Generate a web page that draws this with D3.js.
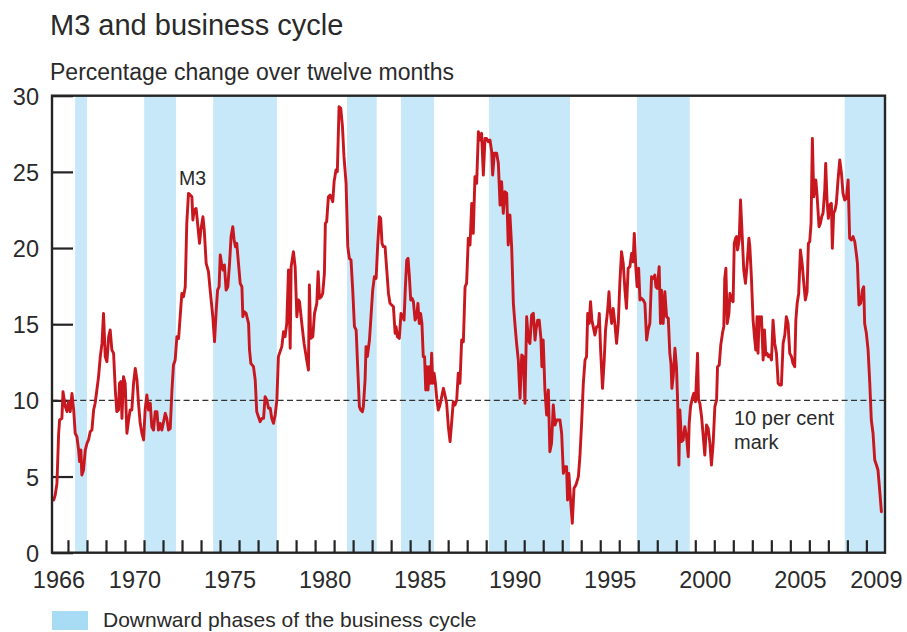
<!DOCTYPE html>
<html>
<head>
<meta charset="utf-8">
<script src="https://cdn.jsdelivr.net/npm/d3@7"></script>
<style>
  html, body { margin: 0; padding: 0; background: #fff; }
  svg { display: block; }
  text { font-family: "Liberation Sans", Arial, Helvetica, sans-serif; fill: #2a2a2a; }
</style>
</head>
<body>
<svg id="chart" width="907" height="632"></svg>
<script>
// ---- Data (decimal years, 12-month % change of M3) ----
const months = [
1966.25,1966.28,1966.33,1966.42,1966.51,1966.56,1966.68,1966.74,1966.86,1966.95,
1967.03,1967.12,1967.21,1967.30,1967.38,1967.47,1967.56,1967.61,1967.68,1967.73,
1967.82,1967.91,1968.00,1968.08,1968.17,1968.26,1968.35,1968.43,1968.52,1968.61,
1968.70,1968.79,1968.87,1968.96,1969.05,1969.14,1969.22,1969.31,1969.40,1969.49,
1969.57,1969.66,1969.71,1969.78,1969.84,1969.92,1970.01,1970.10,1970.19,1970.27,
1970.36,1970.45,1970.54,1970.63,1970.71,1970.80,1970.89,1970.98,1971.06,1971.15,
1971.24,1971.33,1971.41,1971.50,1971.59,1971.68,1971.76,1971.85,1971.94,1972.03,
1972.12,1972.20,1972.29,1972.38,1972.47,1972.55,1972.64,1972.73,1972.82,
1972.99,1973.08,1973.17,1973.25,1973.34,1973.43,1973.52,1973.57,1973.64,1973.74,
1973.81,1973.92,1973.99,1974.10,1974.17,1974.27,1974.39,1974.48,1974.62,1974.71,
1974.80,1974.87,1974.95,1975.01,1975.08,1975.15,1975.23,1975.32,1975.41,1975.50,
1975.58,1975.67,1975.74,1975.81,1975.88,1975.97,1976.06,1976.15,1976.20,1976.27,
1976.37,1976.50,1976.55,1976.62,1976.76,1976.85,1976.93,1977.02,1977.11,1977.20,
1977.29,1977.37,1977.46,1977.55,1977.64,1977.72,1977.81,1977.90,1977.99,1978.07,
1978.16,1978.25,1978.34,1978.42,1978.51,1978.60,1978.69,1978.74,1978.86,1978.95,
1979.04,1979.13,1979.18,1979.30,1979.42,1979.56,1979.65,1979.70,1979.77,1979.88,
1979.97,1980.09,1980.16,1980.23,1980.33,1980.40,1980.49,1980.54,1980.61,1980.70,
1980.79,1980.93,1981.00,1981.10,1981.17,1981.26,1981.35,1981.44,1981.52,1981.63,
1981.72,1981.80,1981.89,1981.98,1982.07,1982.16,1982.24,1982.33,1982.40,1982.49,
1982.54,1982.63,1982.68,1982.75,1982.86,1982.94,1983.03,1983.12,1983.21,1983.29,
1983.38,1983.45,1983.52,1983.59,1983.68,1983.77,1983.86,1983.94,1984.03,1984.12,
1984.21,1984.26,1984.33,1984.43,1984.52,1984.61,1984.68,1984.75,1984.82,1984.89,
1984.96,1985.03,1985.10,1985.17,1985.26,1985.34,1985.41,1985.48,1985.55,1985.62,
1985.69,1985.76,1985.82,1985.87,1985.94,1986.01,1986.08,1986.13,1986.19,1986.26,
1986.33,1986.40,1986.48,1986.57,1986.66,1986.75,1986.83,1986.92,1987.01,1987.10,
1987.18,1987.27,1987.36,1987.45,1987.53,1987.62,
1987.71,1987.80,1987.89,1987.97,1988.06,1988.15,1988.24,1988.32,1988.41,1988.50,
1988.59,1988.67,1988.76,1988.85,1988.94,1989.02,1989.11,1989.20,1989.29,1989.34,
1989.43,1989.55,1989.64,1989.73,1989.81,1989.90,1989.99,1990.08,1990.16,1990.25,
1990.34,1990.43,1990.51,1990.60,1990.69,1990.78,1990.87,1990.95,1991.04,1991.13,
1991.22,1991.30,1991.39,1991.48,1991.57,1991.62,1991.71,1991.79,1991.88,1991.93,
1992.00,1992.09,1992.18,1992.27,1992.35,1992.44,1992.53,1992.62,1992.71,1992.79,
1992.88,1992.97,1993.06,1993.14,1993.23,1993.28,1993.35,1993.44,1993.53,1993.62,
1993.72,1993.85,1993.93,1994.02,1994.11,1994.20,1994.28,1994.34,1994.42,1994.49,
1994.56,1994.63,1994.72,1994.81,1994.90,1994.95,1995.02,1995.12,1995.21,1995.28,
1995.39,1995.46,
1995.51,1995.60,1995.68,1995.77,1995.86,1995.95,1996.03,1996.12,1996.21,1996.30,
1996.38,1996.47,1996.56,1996.65,1996.73,1996.79,1996.87,1996.94,1997.02,1997.09,
1997.17,1997.26,1997.35,1997.44,1997.52,1997.61,1997.70,1997.79,1997.87,1997.93,
1998.00,1998.10,1998.17,1998.22,1998.31,1998.40,1998.49,1998.58,1998.66,1998.72,
1998.77,1998.84,1998.93,1999.01,1999.07,1999.14,1999.19,1999.28,1999.36,1999.45,
1999.54,1999.63,1999.68,1999.75,1999.84,1999.92,2000.01,2000.12,2000.17,2000.24,
2000.33,2000.42,2000.50,2000.59,2000.68,2000.77,2000.85,2000.94,2001.03,2001.12,
2001.17,2001.26,2001.34,2001.43,2001.50,2001.55,2001.61,2001.68,2001.77,2001.82,
2001.91,2001.99,2002.05,2002.12,2002.17,2002.22,2002.31,2002.38,2002.47,2002.55,
2002.64,2002.73,2002.82,
2002.87,2002.95,2003.04,2003.13,2003.18,2003.25,2003.30,2003.36,2003.43,2003.48,
2003.57,2003.64,2003.71,2003.78,2003.85,2003.92,2004.01,2004.09,2004.18,2004.27,
2004.36,2004.44,2004.53,2004.62,2004.71,2004.79,2004.88,2004.97,2005.06,2005.14,
2005.23,2005.29,2005.36,2005.44,2005.53,2005.62,2005.71,2005.79,2005.88,2005.95,
2006.02,2006.09,2006.16,2006.23,2006.34,2006.41,2006.51,2006.58,2006.65,2006.72,
2006.81,2006.86,2006.93,2007.00,2007.07,2007.16,2007.21,2007.28,2007.35,2007.42,
2007.51,2007.60,2007.69,2007.77,2007.86,2007.95,2008.04,2008.12,2008.21,2008.30,
2008.39,2008.47,2008.53,2008.61,2008.70,2008.79,2008.86,2008.91,2009.00,2009.09,
2009.18,2009.26,2009.35,2009.44,2009.53,2009.61,2009.70,2009.79
];

const m3Growth = [
3.46,3.57,3.79,4.55,7.84,8.71,8.82,10.57,9.59,9.26,
9.91,9.26,10.46,9.37,7.84,7.62,6.74,5.98,6.74,5.10,
5.43,6.74,7.18,7.40,7.94,8.05,9.37,9.81,10.68,11.56,
12.87,13.74,15.71,12.87,12.54,14.18,14.62,13.31,13.09,10.68,
9.26,9.37,11.12,11.23,8.82,11.56,11.12,7.84,8.71,9.37,
9.37,11.12,12.10,11.34,9.81,8.49,7.84,7.40,9.37,10.35,
9.37,9.81,8.27,8.05,9.26,9.26,8.05,8.49,8.05,8.60,
9.15,8.82,8.05,8.16,10.68,12.32,12.65,14.18,14.07,
17.02,16.81,17.46,21.62,23.59,23.48,23.37,21.84,22.49,22.60,
21.73,20.31,21.18,22.06,21.18,18.99,18.45,17.24,15.49,13.85,
15.93,17.24,17.46,19.54,18.99,18.56,18.89,17.24,17.46,18.99,
20.75,21.40,20.53,20.09,20.31,18.99,17.68,17.46,15.49,15.82,
15.71,15.05,13.31,12.43,12.21,11.34,9.26,8.93,8.60,8.82,
8.82,10.24,10.03,9.48,9.48,8.82,8.49,9.04,10.03,12.87,
13.20,13.53,14.51,14.18,15.05,18.56,13.42,18.78,19.76,18.78,
15.49,16.59,16.48,15.05,13.74,12.65,11.99,17.57,14.07,14.18,
15.71,16.37,18.45,16.70,16.81,17.02,18.34,21.62,21.73,23.37,
23.48,23.04,24.36,25.12,25.01,29.28,29.17,27.97,26.00,24.25,
20.09,19.32,19.21,17.24,14.84,14.62,12.21,9.59,9.37,9.26,
9.59,11.34,13.53,12.87,13.96,15.49,17.24,18.12,18.01,20.09,
22.06,21.95,20.31,20.09,20.09,18.56,17.02,16.37,16.26,16.15,
14.40,14.84,14.18,14.07,15.71,15.49,15.27,17.46,19.21,19.32,
18.12,16.59,16.70,16.48,15.27,15.49,16.37,15.05,15.71,15.05,
12.87,12.87,10.68,12.21,10.68,12.21,11.12,13.09,11.12,11.78,
11.12,10.13,9.37,9.70,10.24,10.79,10.35,9.81,8.27,7.29,
8.49,9.91,9.70,10.03,11.78,11.12,
13.96,13.85,17.46,17.68,20.64,20.20,22.93,20.96,24.69,24.25,
27.64,27.09,27.53,24.79,27.20,27.20,26.98,27.09,26.33,24.79,
26.22,26.22,25.56,22.82,24.36,22.28,23.70,23.59,20.20,22.17,
20.09,16.37,15.05,13.74,12.65,10.13,12.98,12.87,9.81,15.49,
13.96,13.74,15.60,15.71,13.96,14.62,15.27,15.27,14.07,12.21,
13.96,10.68,9.04,10.68,6.63,7.18,9.70,8.38,8.71,8.71,
8.71,7.84,5.21,5.65,5.65,3.46,5.21,3.46,1.93,4.23,
4.44,4.99,6.30,8.49,11.12,12.65,12.87,15.71,15.05,16.48,
15.27,14.84,14.29,14.84,14.84,15.71,13.31,10.79,12.65,14.62,
15.93,17.13,
16.04,15.05,16.04,15.05,13.74,15.05,17.68,19.76,18.99,17.24,
16.04,18.67,18.78,19.65,19.10,20.96,18.78,17.46,18.67,16.59,
16.70,16.59,16.37,13.96,14.62,15.05,18.12,18.01,18.23,17.46,
17.35,18.78,15.05,17.24,15.05,17.13,15.49,15.38,13.09,12.43,
10.79,11.56,13.42,12.21,10.03,5.75,9.37,7.29,7.40,8.27,
7.62,6.30,8.49,9.59,10.13,10.46,9.91,13.09,10.03,9.81,
8.93,7.62,6.41,8.38,8.16,7.18,5.75,7.18,9.59,10.03,
12.21,12.32,13.63,14.40,14.84,18.01,18.67,15.05,15.71,17.02,
16.59,16.48,20.31,20.64,20.75,19.87,20.53,23.15,20.75,18.56,
17.68,18.99,20.64,
20.09,18.12,15.27,13.96,13.31,15.49,13.09,15.49,15.16,15.49,
12.65,14.62,12.98,13.09,12.87,12.98,12.65,15.27,13.74,13.09,
11.12,11.01,11.01,13.74,14.29,15.49,15.05,13.09,12.87,12.43,
12.21,15.27,16.37,17.02,19.87,18.99,17.68,16.59,17.13,20.31,
20.42,21.62,27.20,23.37,24.47,23.37,21.40,21.62,22.06,22.28,
23.81,25.56,23.15,21.95,22.82,22.93,19.98,22.28,22.49,22.93,
24.47,25.78,24.90,23.59,23.15,23.26,24.47,20.64,20.53,20.75,
20.42,19.65,18.99,16.26,16.37,17.24,17.46,15.05,14.40,13.31,
11.12,8.71,7.84,6.09,5.76,5.43,4.11,2.69
];

// Downward phases of the business cycle (start, end in decimal years)
const downStarts = [1967.38, 1971.01, 1974.64, 1981.68, 1984.52, 1989.15, 1996.93, 2007.86];
const downEnds   = [1968.00, 1972.68, 1977.99, 1983.24, 1986.26, 1993.41, 1999.71, 2009.98];

const yTicks = [0, 5, 10, 15, 20, 25, 30];
const xLabelYears = [1966, 1970, 1975, 1980, 1985, 1990, 1995, 2000, 2005, 2009];
const xTickYears = d3.range(1967, 2010);
const markLevel = 10;

// ---- Layout ----
const svg = d3.select("#chart");
const pLeft = 52, pRight = 885, pTop = 95.7, pBottom = 552.7;

const x = d3.scaleLinear().domain([1966.16, 2009.98]).range([pLeft, pRight]);
const y = d3.scaleLinear().domain([0, 30]).range([pBottom, pTop]);

const ink = "#242424";

// Titles
svg.append("text").attr("x", 50).attr("y", 35)
  .style("font-size", "29px").text("M3 and business cycle");
svg.append("text").attr("x", 50).attr("y", 80)
  .style("font-size", "23px").text("Percentage change over twelve months");

// Bands
const bands = downStarts.map((s, i) => ({ s, e: downEnds[i] }));
svg.append("g").selectAll("rect").data(bands).join("rect")
  .attr("x", d => x(d.s)).attr("width", d => x(d.e) - x(d.s))
  .attr("y", pTop).attr("height", pBottom - pTop)
  .attr("fill", "#c7e8f8");

// 10 per cent line
svg.append("line")
  .attr("x1", pLeft).attr("x2", pRight)
  .attr("y1", y(markLevel)).attr("y2", y(markLevel))
  .attr("stroke", "#333").attr("stroke-width", 1.2)
  .attr("stroke-dasharray", "6,3.4");

// Y axis
const yAxis = d3.axisLeft(y).tickValues(yTicks).tickSize(-21).tickPadding(13);
const gy = svg.append("g").attr("transform", `translate(${pLeft},0)`).call(yAxis);
gy.select(".domain").remove();
gy.selectAll(".tick line").attr("stroke", ink).attr("stroke-width", 2.2);
gy.selectAll(".tick text").style("font-size", "23.5px").attr("fill", "#2a2a2a")
  .attr("dy", "0.36em").style("font-family", '"Liberation Sans", Arial, sans-serif');

// X ticks (year boundaries)
const xAxisTicks = d3.axisBottom(x).tickValues(xTickYears).tickSize(-12.5).tickFormat("");
const gxt = svg.append("g").attr("transform", `translate(0,${pBottom})`).call(xAxisTicks);
gxt.select(".domain").remove();
gxt.selectAll(".tick line").attr("stroke", ink).attr("stroke-width", 2.2);

// X labels (mid-year)
const xAxisLabels = d3.axisBottom(x).tickValues(xLabelYears.map(v => v + 0.5))
  .tickSize(0).tickPadding(19).tickFormat(d => String(Math.floor(d)));
const gxl = svg.append("g").attr("transform", `translate(0,${pBottom})`).call(xAxisLabels);
gxl.select(".domain").remove();
gxl.selectAll(".tick text").style("font-size", "23.5px").attr("fill", "#2a2a2a")
  .style("font-family", '"Liberation Sans", Arial, sans-serif');

// M3 line
const series = months.map((t, i) => ({ t, v: m3Growth[i] }));
const line = d3.line().x(d => x(d.t)).y(d => y(d.v));
svg.append("path").datum(series)
  .attr("d", line)
  .attr("fill", "none")
  .attr("stroke", "#c8171e")
  .attr("stroke-width", 2.9)
  .attr("stroke-linejoin", "round")
  .attr("stroke-linecap", "round");

// Frame
svg.append("rect")
  .attr("x", pLeft).attr("y", pTop)
  .attr("width", pRight - pLeft).attr("height", pBottom - pTop)
  .attr("fill", "none").attr("stroke", ink).attr("stroke-width", 2.4);

// Annotations
svg.append("text").attr("x", 179).attr("y", 185)
  .style("font-size", "19.5px").text("M3");
svg.append("text").attr("x", 734).attr("y", 425)
  .style("font-size", "20px").text("10 per cent");
svg.append("text").attr("x", 734).attr("y", 448.5)
  .style("font-size", "20px").text("mark");

// Legend
svg.append("rect").attr("x", 52).attr("y", 611).attr("width", 36).attr("height", 19)
  .attr("fill", "#a8dcf4");
svg.append("text").attr("x", 103).attr("y", 627)
  .style("font-size", "21px").text("Downward phases of the business cycle");
</script>
</body>
</html>
